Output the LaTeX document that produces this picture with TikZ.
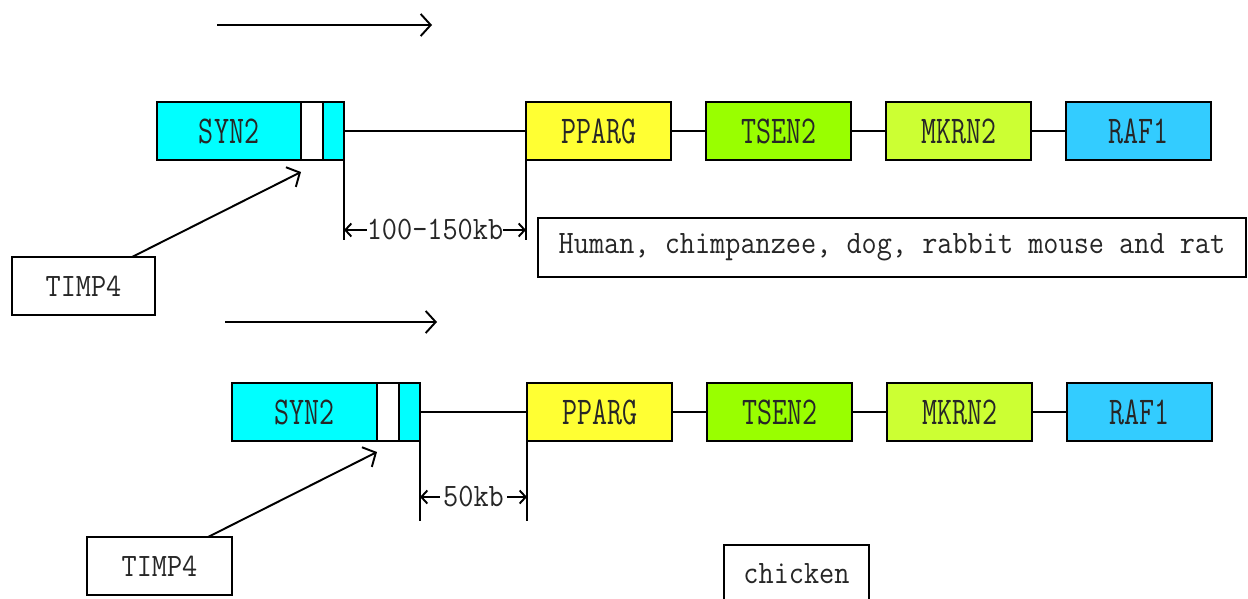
\documentclass[tikz,border=0pt]{standalone}
\usepackage{fontspec}
\usetikzlibrary{positioning, arrows.meta}
\newfontfamily\tagfont[FakeStretch=0.9]{Latin Modern Mono}
\newfontfamily\genefont[FakeStretch=0.74]{Latin Modern Mono}
\definecolor{syncyan}{RGB}{0, 255, 255}
\definecolor{ppyellow}{RGB}{255, 255, 51}
\definecolor{tsgreen}{RGB}{153, 255, 0}
\definecolor{mklime}{RGB}{204, 255, 51}
\definecolor{rafblue}{RGB}{51, 204, 255}

\begin{document}
\begin{tikzpicture}[
    node distance=0.7cm,
    gene/.style={rectangle, draw=black, line width=1.1pt, minimum width=2.9cm, minimum height=1.16cm, inner sep=0pt, outer sep=0pt, font=\genefont\fontsize{22.4}{24}\selectfont, text=black!85},
    part/.style={rectangle, draw=black, line width=1.1pt, minimum height=1.16cm, inner sep=0pt, outer sep=0pt, font=\genefont\fontsize{22.4}{24}\selectfont, text=black!85},
    tag/.style={rectangle, draw=black, line width=1.1pt, minimum height=1.16cm, outer sep=0pt, font=\tagfont\fontsize{18.6}{20}\selectfont, text=black!85},
    link/.style={line width=1.1pt},
    arrow/.style={line width=1.1pt, -{Straight Barb[length=2mm, width=4.4mm]}},
    span/.style={line width=1.1pt, {Straight Barb[length=1.2mm, width=2.6mm]}-{Straight Barb[length=1.2mm, width=2.6mm]}}
]
\useasboundingbox (0,0) rectangle (24.96,-11.98);

% Upper row (mammals)
\coordinate (dirA) at (4.34,-0.5);
\draw[arrow] (dirA) -- ++(4.3,0);

\node[part, fill=syncyan, minimum width=2.88cm, anchor=north west] (synA) at (3.14,-2.04) {SYN2};
\node[part, fill=white, minimum width=0.44cm, right=0pt of synA] (exonA) {};
\node[part, fill=syncyan, minimum width=0.42cm, right=0pt of exonA] (tailA) {};

\node[gene, fill=ppyellow, anchor=north west] (ppargA) at (10.52,-2.04) {PPARG};
\node[gene, fill=tsgreen, right=of ppargA] (tsenA) {TSEN2};
\node[gene, fill=mklime, right=of tsenA] (mkrnA) {MKRN2};
\node[gene, fill=rafblue, right=of mkrnA] (rafA) {RAF1};

\node[tag, minimum width=2.86cm, anchor=north west] (timpA) at (0.24,-5.14) {TIMP4};
\node[tag, minimum width=14.16cm, minimum height=1.18cm, anchor=north west] (speciesA) at (10.76,-4.36) {Human, chimpanzee, dog, rabbit mouse and rat};

\draw[link] (tailA.east) -- (ppargA.west);
\draw[link] (ppargA) -- (tsenA);
\draw[link] (tsenA) -- (mkrnA);
\draw[link] (mkrnA) -- (rafA);

\draw[link] (tailA.south east) -- ++(0,-1.6) coordinate (endA1);
\draw[link] (ppargA.south west) -- ++(0,-1.6) coordinate (endA2);
\draw[span] ([yshift=0.2cm]endA1) -- node[fill=white, inner sep=0pt, font=\tagfont\fontsize{18.6}{20}\selectfont, text=black!85] {100-150kb} ([yshift=0.2cm]endA2);

\draw[arrow] ([xshift=-0.46cm]timpA.north east) -- ([yshift=-0.24cm]exonA.south west);

% Lower row (chicken)
\coordinate (dirB) at (4.5,-6.44);
\draw[arrow] (dirB) -- ++(4.24,0);

\node[part, fill=syncyan, minimum width=2.9cm, anchor=north west] (synB) at (4.64,-7.66) {SYN2};
\node[part, fill=white, minimum width=0.44cm, right=0pt of synB] (exonB) {};
\node[part, fill=syncyan, minimum width=0.42cm, right=0pt of exonB] (tailB) {};

\node[gene, fill=ppyellow, anchor=north west] (ppargB) at (10.54,-7.66) {PPARG};
\node[gene, fill=tsgreen, right=of ppargB] (tsenB) {TSEN2};
\node[gene, fill=mklime, right=of tsenB] (mkrnB) {MKRN2};
\node[gene, fill=rafblue, right=of mkrnB] (rafB) {RAF1};

\node[tag, minimum width=2.9cm, anchor=north west] (timpB) at (1.74,-10.74) {TIMP4};
\node[tag, minimum width=2.9cm, anchor=north west] (speciesB) at (14.48,-10.9) {chicken};

\draw[link] (tailB.east) -- (ppargB.west);
\draw[link] (ppargB) -- (tsenB);
\draw[link] (tsenB) -- (mkrnB);
\draw[link] (mkrnB) -- (rafB);

\draw[link] (tailB.south east) -- ++(0,-1.6) coordinate (endB1);
\draw[link] (ppargB.south west) -- ++(0,-1.6) coordinate (endB2);
\draw[span] ([yshift=0.48cm]endB1) -- node[fill=white, inner sep=2pt, font=\tagfont\fontsize{18.6}{20}\selectfont, text=black!85] {50kb} ([yshift=0.48cm]endB2);

\draw[arrow] ([xshift=-0.48cm]timpB.north east) -- ([yshift=-0.22cm]exonB.south west);

\end{tikzpicture}
\end{document}
